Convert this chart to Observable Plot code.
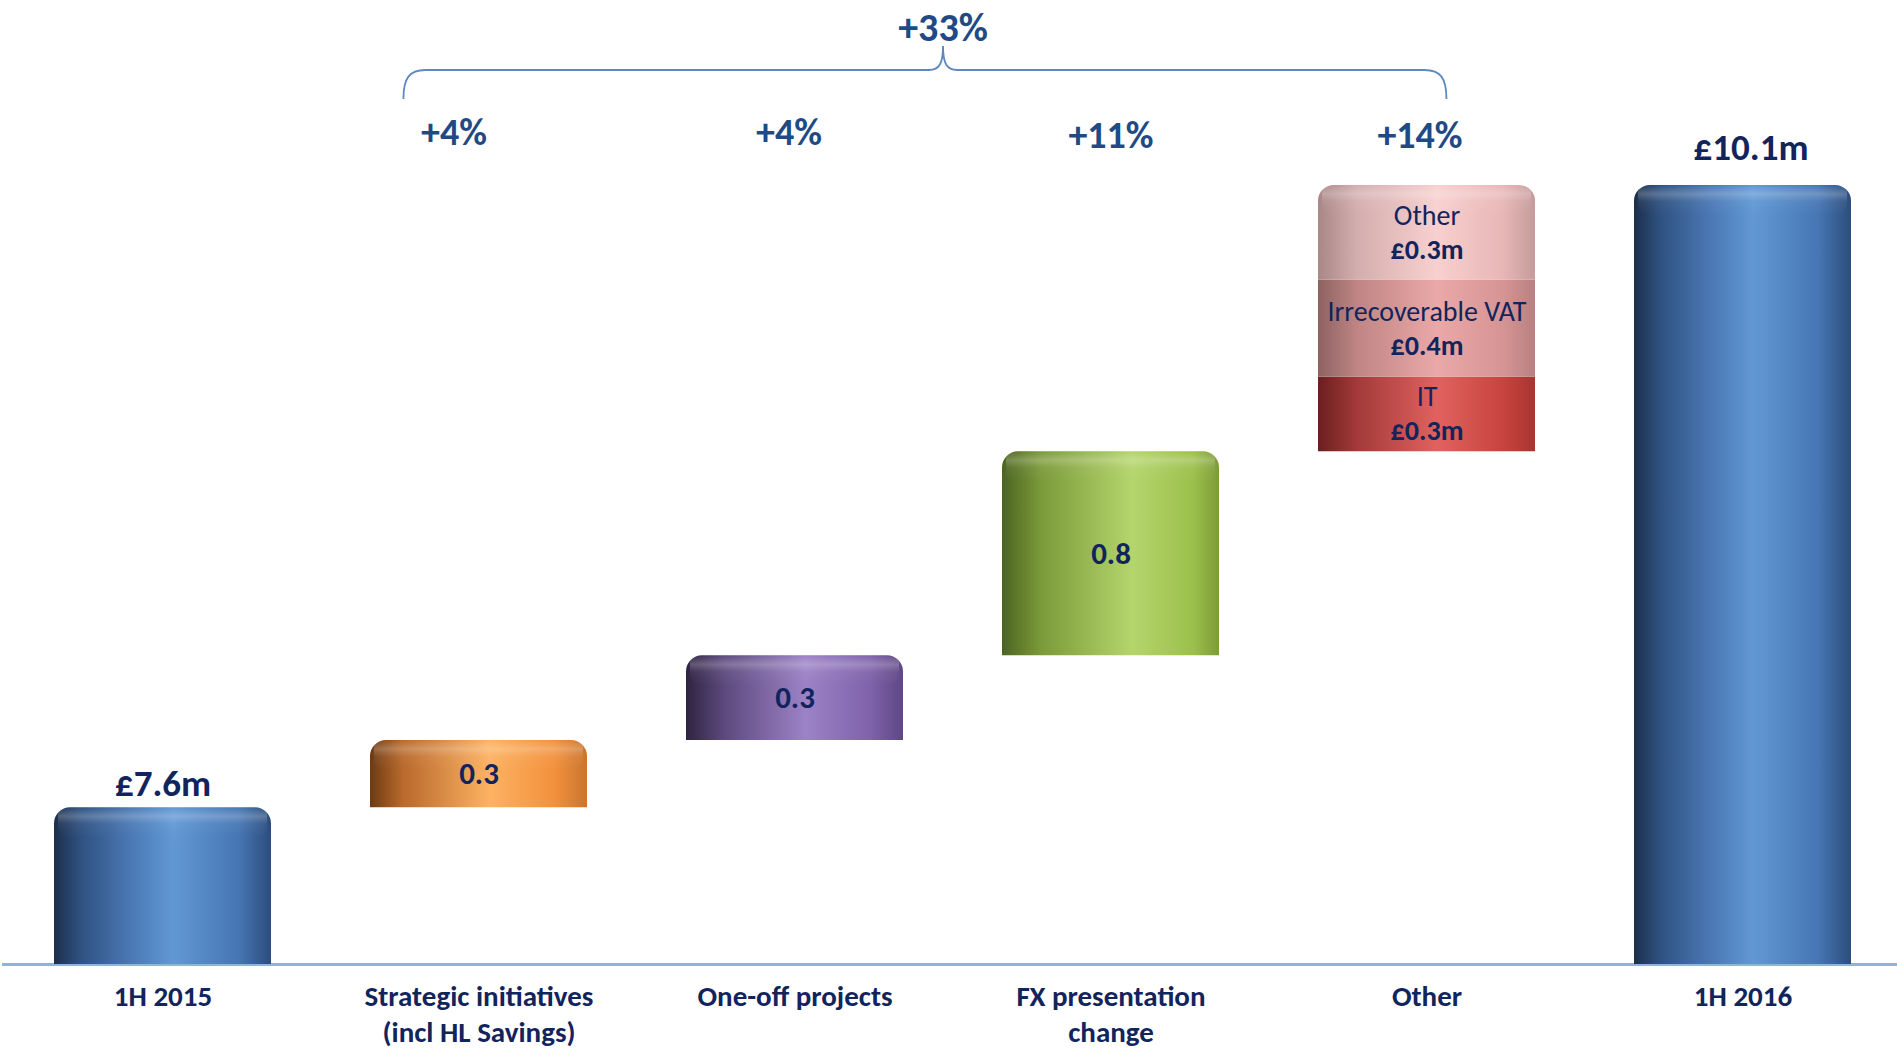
<!DOCTYPE html>
<html><head><meta charset="utf-8">
<script src="https://cdn.jsdelivr.net/npm/d3@7"></script>
<script src="https://cdn.jsdelivr.net/npm/@observablehq/plot@0.6"></script>
<style>
html,body{margin:0;padding:0;background:#fff;}
#chart{width:1897px;height:1051px;overflow:hidden;}
</style></head><body><div id="chart"></div>
<script>
// ---- data ----
const categories = ["1H 2015", "Strategic initiatives (incl HL Savings)", "One-off projects", "FX presentation change", "Other", "1H 2016"];
const tickLabels = ["1H 2015", "Strategic initiatives\n(incl HL Savings)", "One-off projects", "FX presentation\nchange", "Other", "1H 2016"];
const totals = [7.6, 10.1];
const totalLabels = ["£7.6m", "£10.1m"];
const stepValues = [0.27, 0.34, 0.82];
const stepLabels = ["0.3", "0.3", "0.8"];
const otherSegments = ["IT", "Irrecoverable VAT", "Other"];
const otherValues = [0.30, 0.39, 0.38];
const otherLabels = ["£0.3m", "£0.4m", "£0.3m"];
const pctLabels = ["+4%", "+4%", "+11%", "+14%"];
const totalChange = "+33%";

// ---- styling ----
const FONT = "Carlito, Calibri, Lato, sans-serif";
const NAVY = "#12245c";
const PCT = "#1f4a85";
const stepGradients = ["g-orange", "g-purple", "g-green"];
const otherGradients = ["g-red", "g-rose", "g-pink"];
const pctDx = [-25, -6, 0, -7];
const yFloor = 6.97;

// ---- derived rows ----
const totalRows = [
  {cat: categories[0], y1: 0, y2: totals[0], label: totalLabels[0]},
  {cat: categories[5], y1: 0, y2: totals[1], label: totalLabels[1]}
];
let level = totals[0];
const stepRows = stepValues.map((v, i) => {
  const r = {cat: categories[i + 1], y1: level, y2: level + v, label: stepLabels[i], grad: stepGradients[i]};
  level += v; return r;
});
const otherRows = otherValues.map((v, i) => {
  const r = {cat: categories[4], y1: level, y2: level + v, name: otherSegments[i], label: otherLabels[i], grad: otherGradients[i], top: i === otherValues.length - 1};
  level += v; return r;
});
const pctRows = pctLabels.map((p, i) => ({cat: categories[i + 1], label: p}));
const capRows = [...totalRows, ...stepRows, otherRows[otherRows.length - 1]];

const R = 16;
const rectOpts = {x: "cat", y1: "y1", y2: "y2"};
const marks = [
  Plot.ruleY([yFloor], {stroke: "#8fb3de", strokeWidth: 3}),
  Plot.rectY(totalRows, {...rectOpts, fill: "url(#g-blue)", rx1y2: R, rx2y2: R}),
  ...stepRows.map(r => Plot.rectY([r], {...rectOpts, fill: `url(#${r.grad})`, rx1y2: R, rx2y2: R})),
  ...otherRows.map(r => Plot.rectY([r], {...rectOpts, fill: `url(#${r.grad})`, ...(r.top ? {rx1y2: R, rx2y2: R} : {})})),
  // cylinder top highlight
  Plot.rectY(capRows, {x: "cat", y1: "y2", y2: "y2", insetBottom: -30, insetLeft: 4, insetRight: 4, fill: "url(#g-cap)", rx1y2: R - 4, rx2y2: R - 4}),
  Plot.text(totalRows.slice(0, 1), {x: "cat", y: "y2", text: "label", dy: -24, fontSize: 37, fontWeight: "bold", fill: NAVY}),
  Plot.text(totalRows.slice(1), {x: "cat", y: "y2", text: "label", dy: -37, dx: 8, fontSize: 37, fontWeight: "bold", fill: NAVY}),
  Plot.text(stepRows, {x: "cat", y: d => (d.y1 + d.y2) / 2, text: "label", fontSize: 31, fontWeight: "bold", fill: NAVY}),
  Plot.text(otherRows, {x: "cat", y: d => (d.y1 + d.y2) / 2, text: "name", dy: -17, fontSize: 28, fill: NAVY}),
  Plot.text(otherRows, {x: "cat", y: d => (d.y1 + d.y2) / 2, text: "label", dy: 17, fontSize: 28, fontWeight: "bold", fill: NAVY}),
  ...pctRows.map((r, i) => Plot.text([r], {x: "cat", frameAnchor: "top", lineAnchor: "middle", dy: i < 2 ? 132 : 135, dx: pctDx[i], text: "label", fontSize: 38, fontWeight: "bold", fill: PCT})),
  Plot.axisX({tickSize: 0, tickPadding: 16, fontSize: 29, fontWeight: "bold", color: NAVY, lineHeight: 1.24,
    tickFormat: d => tickLabels[categories.indexOf(d)]})
];

const chart = Plot.plot({
  width: 1897, height: 1051,
  marginLeft: 2, marginRight: -5, marginTop: 0, marginBottom: 87,
  style: {fontFamily: FONT, background: "#fff", overflow: "visible"},
  x: {domain: categories, paddingInner: 0.314, paddingOuter: 0.157, label: null, axis: null},
  y: {domain: [yFloor, 10.843], clamp: true, axis: null},
  marks
});

// gradients
const defsHtml = `
<linearGradient id="g-cap" x1="0" x2="0" y1="0" y2="1">
 <stop offset="0" stop-color="#ffffff" stop-opacity="0"/><stop offset="0.3" stop-color="#ffffff" stop-opacity="0.22"/>
 <stop offset="0.55" stop-color="#ffffff" stop-opacity="0.05"/><stop offset="1" stop-color="#ffffff" stop-opacity="0"/></linearGradient>
<linearGradient id="g-blue" x1="0" x2="1" y1="0" y2="0">
 <stop offset="0" stop-color="#1c2f4c"/><stop offset="0.12" stop-color="#2f5180"/><stop offset="0.35" stop-color="#4a78b4"/>
 <stop offset="0.55" stop-color="#6198d4"/><stop offset="0.85" stop-color="#4676b3"/><stop offset="1" stop-color="#2c4d7c"/></linearGradient>
<linearGradient id="g-orange" x1="0" x2="1"><stop offset="0" stop-color="#6e3a12"/><stop offset="0.15" stop-color="#b8692c"/>
 <stop offset="0.55" stop-color="#fdb262"/><stop offset="0.85" stop-color="#f2913d"/><stop offset="1" stop-color="#c9752f"/></linearGradient>
<linearGradient id="g-purple" x1="0" x2="1"><stop offset="0" stop-color="#2e2441"/><stop offset="0.18" stop-color="#5e4a7e"/>
 <stop offset="0.55" stop-color="#9c82c6"/><stop offset="0.85" stop-color="#7f62aa"/><stop offset="1" stop-color="#5e4884"/></linearGradient>
<linearGradient id="g-green" x1="0" x2="1"><stop offset="0" stop-color="#4c6420"/><stop offset="0.18" stop-color="#7b9a3a"/>
 <stop offset="0.6" stop-color="#b4d56c"/><stop offset="0.88" stop-color="#9cc04c"/><stop offset="1" stop-color="#7d9b38"/></linearGradient>
<linearGradient id="g-red" x1="0" x2="1"><stop offset="0" stop-color="#6b1e1f"/><stop offset="0.18" stop-color="#a33a39"/>
 <stop offset="0.55" stop-color="#e0625f"/><stop offset="0.85" stop-color="#c8443f"/><stop offset="1" stop-color="#a83430"/></linearGradient>
<linearGradient id="g-rose" x1="0" x2="1"><stop offset="0" stop-color="#8d6262"/><stop offset="0.18" stop-color="#bf8584"/>
 <stop offset="0.55" stop-color="#eaa9a8"/><stop offset="0.85" stop-color="#d69594"/><stop offset="1" stop-color="#b88181"/></linearGradient>
<linearGradient id="g-pink" x1="0" x2="1"><stop offset="0" stop-color="#a88787"/><stop offset="0.18" stop-color="#d4aeae"/>
 <stop offset="0.55" stop-color="#f8d0cf"/><stop offset="0.85" stop-color="#e7b7b6"/><stop offset="1" stop-color="#c69b9b"/></linearGradient>`;
const defs = document.createElementNS("http://www.w3.org/2000/svg", "defs");
defs.innerHTML = defsHtml;
chart.insertBefore(defs, chart.firstChild);

// brace annotation spanning the change bars
const xs = chart.scale("x");
const cx = c => xs.apply(c) + xs.bandwidth / 2;
const bw = xs.bandwidth;
const L = cx(categories[1]) - 0.346 * bw;
const Rr = cx(categories[4]) + 0.092 * bw;
const M = cx(categories[1]) + 0.49 * (cx(categories[4]) - cx(categories[1]));
const yb = 99, yh = 70, yp = 46, c = 22;
const path = `M${L},${yb} C${L},${yh + 8} ${L + 6},${yh} ${L + c},${yh} L${M - 14},${yh} C${M - 4},${yh} ${M},${yh - 6} ${M},${yp} C${M},${yh - 6} ${M + 4},${yh} ${M + 14},${yh} L${Rr - c},${yh} C${Rr - 6},${yh} ${Rr},${yh + 8} ${Rr},${yb}`;
const svg = d3.select(chart);
svg.append("path").attr("d", path).attr("fill", "none").attr("stroke", "#5d88c2").attr("stroke-width", 1.8);
svg.append("text").attr("x", M).attr("y", 41).attr("text-anchor", "middle")
  .attr("font-size", 40).attr("font-weight", "bold").attr("fill", PCT).attr("font-family", FONT).text(totalChange);

document.getElementById("chart").appendChild(chart);
</script></body></html>
